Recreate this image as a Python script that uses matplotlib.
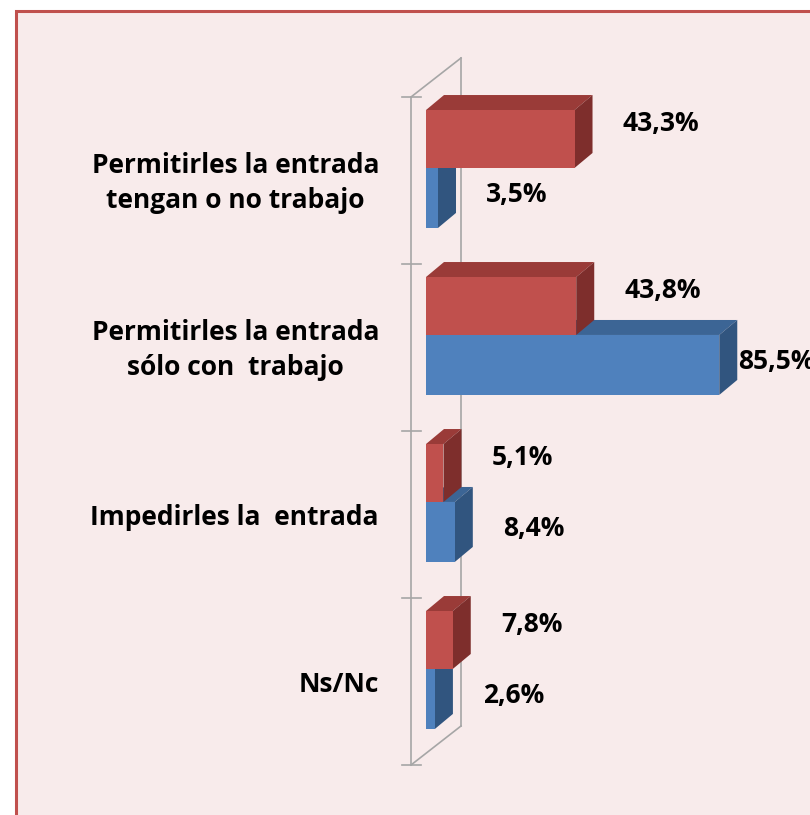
import matplotlib.pyplot as plt
from matplotlib.patches import Polygon, Rectangle

categorias = ["Permitirles la entrada\ntengan o no trabajo",
              "Permitirles la entrada\nsólo con  trabajo",
              "Impedirles la  entrada",
              "Ns/Nc"]
rojo = [43.3, 43.8, 5.1, 7.8]
azul = [3.5, 85.5, 8.4, 2.6]

W, H = 810, 815
PX = 3.43      # pixeles por punto porcentual
X0 = 426       # pixel del cero
SLOT = 167     # alto de cada categoria en pixeles
Y0 = 97        # pixel del borde superior del eje

fig = plt.figure(figsize=(W / 100, H / 100), dpi=100)
fig.patch.set_facecolor("white")
fig.patches.append(Rectangle((16 / W, -0.05), 1.0, 1.05 - 11 / H, transform=fig.transFigure,
                             facecolor="#F8EBEB", edgecolor="#C0504D", lw=2.2, zorder=-10))

ax = fig.add_axes([0, 0, 1, 1])
ax.set_facecolor("none")
ax.axis("off")
ax.set_xlim(-X0 / PX, (W - X0) / PX)
ax.set_ylim((H - Y0) / SLOT, -Y0 / SLOT)

dx, dy = 18 / PX, -15 / SLOT
fuente = "Open Sans"


def caja(x1, y0, y1, c_frente, c_arriba, c_lado):
    x0 = 0
    ax.add_patch(Polygon([(x0, y0), (x0 + dx, y0 + dy), (x1 + dx, y0 + dy), (x1, y0)],
                         closed=True, fc=c_arriba, ec="none", zorder=3))
    ax.add_patch(Polygon([(x1, y0), (x1 + dx, y0 + dy), (x1 + dx, y1 + dy), (x1, y1)],
                         closed=True, fc=c_lado, ec="none", zorder=3))
    ax.add_patch(Polygon([(x0, y0), (x1, y0), (x1, y1), (x0, y1)],
                         closed=True, fc=c_frente, ec="none", zorder=3))


# pared
gris = "#A6A6A6"
fx = -15 / PX
bx = fx + 50 / PX
wdy = -39 / SLOT
n = len(categorias)
ax.plot([fx, fx], [0, n], color=gris, lw=1.2, zorder=1)
ax.plot([bx, bx], [wdy, n + wdy], color=gris, lw=1.2, zorder=1)
ax.plot([fx, bx], [0, wdy], color=gris, lw=1.2, zorder=1)
ax.plot([fx, bx], [n, n + wdy], color=gris, lw=1.2, zorder=1)
for k in range(n + 1):
    ax.plot([-24 / PX, -5 / PX], [k, k], color=gris, lw=1.2, zorder=1)

for i in range(n):
    yr0, yr1 = i + 0.078, i + 0.425
    yb0, yb1 = i + 0.425, i + 0.784
    caja(azul[i], yb0, yb1, "#4F81BD", "#3C6595", "#31557F")
    caja(rojo[i], yr0, yr1, "#C0504D", "#9A3B38", "#7E2E2C")

    ax.text(-47 / PX, i + 0.515, categorias[i], ha="right", va="center", multialignment="center",
            fontsize=19, fontweight="bold", family=fuente, linespacing=1.35, zorder=4)

    for v, yc in ((rojo[i], (yr0 + yr1) / 2 - 0.09), (azul[i], (yb0 + yb1) / 2 - 0.02)):
        ax.text(min(v + 14, 91), yc, f"{v:.1f}".replace(".", ",") + "%", ha="left", va="center",
                fontsize=19, fontweight="bold", family=fuente, zorder=4)

fig.savefig("out.png", dpi=100, facecolor=fig.get_facecolor())
